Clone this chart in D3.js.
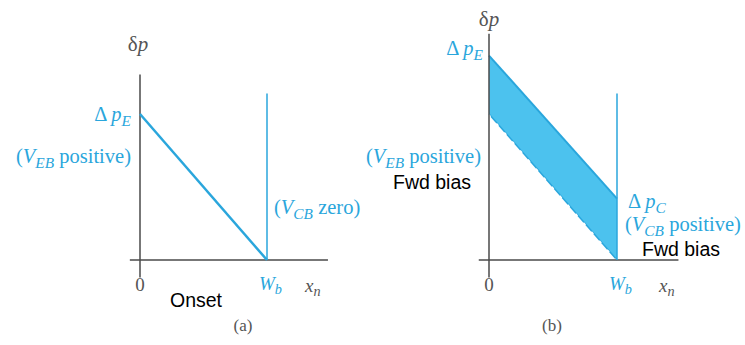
<!DOCTYPE html>
<html>
<head>
<meta charset="utf-8">
<script src="https://cdn.jsdelivr.net/npm/d3@7"></script>
<style>
  html, body { margin: 0; padding: 0; background: #fff; }
  svg { display: block; }
  .math { font-family: "Liberation Serif", "DejaVu Serif", serif; }
  .plain { font-family: "Liberation Sans", Arial, sans-serif; }
</style>
</head>
<body>
<div id="chart"></div>
<script>
// Base-width coordinate: 0 at emitter edge, 1 at W_b
const xPoints = [0, 1];
// Excess hole concentration (units of the onset Δp_E)
const onsetProfile = [1.0, 0.0];          // (a) V_CB zero
const fwdTopProfile = [1.40, 0.42];       // (b) Δp_E rises, Δp_C at collector
const fwdBaseProfile = [1.0, 0.0];        // (b) onset profile, dashed
const collectorMarkTop = 1.14;            // vertical line at W_b
const axisTopA = 1.27, axisTopB = 1.55;
const xAxisExtent = [-0.08, 1.48];

const W = 745, H = 345;
const blue = "#2aa6dc", fillBlue = "#4cc2ee", axisGray = "#4a4a4a", capGray = "#555";
const mathSize = 20.5, plainSize = 19.5;

const svg = d3.select("#chart").append("svg").attr("width", W).attr("height", H);

function panel(x0, x1, yBase) {
  const x = d3.scaleLinear().domain([0, 1]).range([x0, x1]);
  const y = d3.scaleLinear().domain([0, 1]).range([yBase, yBase - 146]);
  return {x, y};
}

function axes(g, s, top) {
  g.append("line").attr("x1", s.x(xAxisExtent[0])).attr("x2", s.x(xAxisExtent[1]))
    .attr("y1", s.y(0)).attr("y2", s.y(0)).attr("stroke", axisGray).attr("stroke-width", 1.5);
  g.append("line").attr("x1", s.x(0)).attr("x2", s.x(0))
    .attr("y1", s.y(-0.12)).attr("y2", s.y(top)).attr("stroke", axisGray).attr("stroke-width", 1.5);
  g.append("line").attr("x1", s.x(1)).attr("x2", s.x(1))
    .attr("y1", s.y(0)).attr("y2", s.y(collectorMarkTop)).attr("stroke", blue).attr("stroke-width", 1.5);
}

// Math label helper: array of pieces {t, i: italic, sub: subscript, up: back to baseline}
function mathText(g, x, y, pieces, anchor, size, color) {
  const fs = size || mathSize;
  const t = g.append("text").attr("class", "math").attr("x", x).attr("y", y)
    .attr("text-anchor", anchor || "start").attr("font-size", fs).attr("fill", color || blue);
  pieces.forEach(p => {
    const ts = t.append("tspan").text(p.t);
    if (p.i) ts.attr("font-style", "italic");
    if (p.sub) ts.attr("font-size", fs * 0.75).attr("dy", fs * 0.22);
    if (p.up) ts.attr("dy", -fs * 0.22);
  });
  return t;
}

function plainText(g, x, y, text, anchor) {
  g.append("text").attr("class", "plain").attr("x", x).attr("y", y)
    .attr("text-anchor", anchor || "start").attr("font-size", plainSize).attr("fill", "#000").text(text);
}

const line = s => d3.line().x(d => s.x(d[0])).y(d => s.y(d[1]));

// ---- Panel (a): onset ----
{
  const s = panel(140, 267, 260);
  const g = svg.append("g");
  axes(g, s, axisTopA);
  g.append("path").datum(d3.zip(xPoints, onsetProfile)).attr("d", line(s))
    .attr("fill", "none").attr("stroke", blue).attr("stroke-width", 2.5);

  mathText(g, 138, 51, [{t: "δ"}, {t: "p", i: true}], "middle", 21, capGray);
  mathText(g, 131, 121, [{t: "Δ "}, {t: "p", i: true}, {t: "E", i: true, sub: true}], "end");
  mathText(g, 131, 163, [{t: "("}, {t: "V", i: true}, {t: "EB", i: true, sub: true}, {t: " positive)", up: true}], "end");
  mathText(g, 274, 214, [{t: "("}, {t: "V", i: true}, {t: "CB", i: true, sub: true}, {t: " zero)", up: true}], "start");
  mathText(g, s.x(0), 291, [{t: "0"}], "middle", 19, capGray);
  mathText(g, 259, 290, [{t: "W", i: true}, {t: "b", i: true, sub: true}], "start", 19);
  mathText(g, 305, 292, [{t: "x", i: true}, {t: "n", i: true, sub: true}], "start", 19, capGray);
  plainText(g, 170, 307, "Onset");
  mathText(g, 243, 331, [{t: "(a)"}], "middle", 17, capGray);
}

// ---- Panel (b): forward bias on both junctions ----
{
  const s = panel(489, 617, 260);
  const g = svg.append("g");

  const top = d3.zip(xPoints, fwdTopProfile);
  const base = d3.zip(xPoints, fwdBaseProfile);
  const area = d3.area().x(d => s.x(d[0])).y0(d => s.y(d[2])).y1(d => s.y(d[1]));
  g.append("path").datum(xPoints.map((v, i) => [v, fwdTopProfile[i], fwdBaseProfile[i]]))
    .attr("d", area).attr("fill", fillBlue);
  g.append("path").datum(base).attr("d", line(s)).attr("fill", "none")
    .attr("stroke", blue).attr("stroke-width", 1.5);
  g.append("path").datum(base).attr("d", line(s)).attr("fill", "none")
    .attr("stroke", "#fff").attr("stroke-width", 1.8).attr("stroke-dasharray", "3 9")
    .attr("transform", "translate(-0.6,0.6)");
  g.append("path").datum(top).attr("d", line(s)).attr("fill", "none")
    .attr("stroke", blue).attr("stroke-width", 2);

  axes(g, s, axisTopB);

  mathText(g, 489, 26, [{t: "δ"}, {t: "p", i: true}], "middle", 21, capGray);
  mathText(g, 483, 55, [{t: "Δ "}, {t: "p", i: true}, {t: "E", i: true, sub: true}], "end");
  mathText(g, 481, 163, [{t: "("}, {t: "V", i: true}, {t: "EB", i: true, sub: true}, {t: " positive)", up: true}], "end");
  plainText(g, 393, 189, "Fwd bias");
  mathText(g, 628, 208, [{t: "Δ "}, {t: "p", i: true}, {t: "C", i: true, sub: true}], "start");
  mathText(g, 625, 231, [{t: "("}, {t: "V", i: true}, {t: "CB", i: true, sub: true}, {t: " positive)", up: true}], "start");
  plainText(g, 642, 256, "Fwd bias");
  mathText(g, s.x(0), 291, [{t: "0"}], "middle", 19, capGray);
  mathText(g, 609, 290, [{t: "W", i: true}, {t: "b", i: true, sub: true}], "start", 19);
  mathText(g, 659, 292, [{t: "x", i: true}, {t: "n", i: true, sub: true}], "start", 19, capGray);
  mathText(g, 552, 331, [{t: "(b)"}], "middle", 17, capGray);
}
</script>
</body>
</html>
